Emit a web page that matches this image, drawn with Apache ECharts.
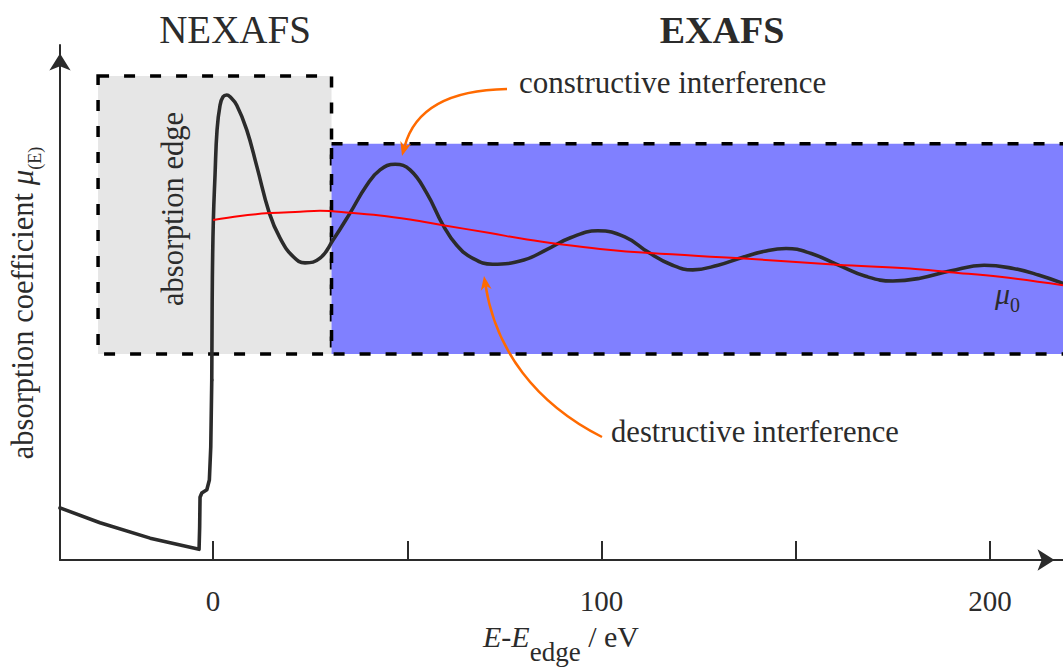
<!DOCTYPE html>
<html><head><meta charset="utf-8">
<script src="https://cdn.jsdelivr.net/npm/echarts@6/dist/echarts.min.js"></script>
<style>html,body{margin:0;padding:0;background:#fff}#c{width:1063px;height:671px}</style>
</head><body><div id="c"></div>
<script>
// ---------------- data (E - E_edge in eV, absorption in arbitrary units) ----------------
const edgeE  = [-39.4, -29.1, -16.2, -3.6, -3.45, -3.35, -2.9, -1.6, -0.95, -0.59, -0.33];
const edgeMu = [0.112, 0.080, 0.047, 0.023, 0.070, 0.135, 0.144, 0.151, 0.172, 0.243, 0.387];

const exafsE  = [-0.33, -0.18, 0.08, 0.51, 1.03, 1.80, 2.57, 3.53, 4.38, 6.10, 8.67, 11.25, 14.49, 17.25, 20.67, 23.68, 27.54, 30.89, 35.26, 39.56, 42.99, 46.85, 50.71, 55.01, 59.20, 62.73, 67.00, 72.00, 80.00, 86.00, 92.00, 99.00, 106.00, 112.00, 118.00, 123.50, 130.00, 136.00, 142.00, 147.50, 154.00, 161.00, 168.00, 175.00, 182.00, 190.00, 198.50, 206.00, 212.50, 218.79];
const exafsMu = [0.387, 0.602, 0.731, 0.828, 0.925, 0.978, 0.996, 1.000, 0.996, 0.978, 0.925, 0.847, 0.746, 0.692, 0.652, 0.639, 0.649, 0.688, 0.746, 0.806, 0.839, 0.851, 0.839, 0.789, 0.720, 0.677, 0.648, 0.636, 0.645, 0.668, 0.693, 0.708, 0.695, 0.662, 0.635, 0.624, 0.634, 0.650, 0.664, 0.670, 0.659, 0.634, 0.610, 0.600, 0.606, 0.622, 0.634, 0.627, 0.613, 0.595];

const mu0E   = [0, 6.95, 14.67, 22.39, 27.54, 35.26, 42.99, 50.71, 59.20, 71.30, 80.82, 89.32, 99.61, 112.48, 135.65, 160.62, 179.41, 189.70, 202.57, 218.79];
const mu0Val = [0.731, 0.740, 0.746, 0.749, 0.751, 0.747, 0.741, 0.732, 0.720, 0.703, 0.689, 0.679, 0.669, 0.660, 0.649, 0.635, 0.627, 0.619, 0.609, 0.591];

const regionNames = ['NEXAFS', 'EXAFS'];
const regionX0 = [-29.6, 30.5];
const regionX1 = [30.5, 226];
const regionY0 = [0.443, 0.443];
const regionY1 = [1.041, 0.895];

const tickValues  = [0, 50, 100, 150, 200];
const labelValues = [0, 100, 200];

// ---------------- styling helpers ----------------
const INK = '#2b2b2b';
const ORANGE = '#ff6a00';
const FONT = 'Liberation Serif, serif';
const regionFill = ['#e6e6e6', '#8080ff'];
const mctx = document.createElement('canvas').getContext('2d');
function tw(t, size, style, weight) {
  mctx.font = (style || 'normal') + ' ' + (weight || 'normal') + ' ' + size + 'px ' + FONT;
  return mctx.measureText(t).width;
}
// parts: [text, size, style, weight, baselineShift]; (x,y) = baseline anchor
function textRun(parts, x, y, rotation, align) {
  const widths = parts.map(p => tw(p[0], p[1], p[2], p[3]));
  const total = widths.reduce((a, b) => a + b, 0);
  let cx = align === 'left' ? 0 : -total / 2;
  const children = parts.map((p, i) => {
    const el = {
      type: 'text', x: cx, y: (p[4] || 0) - 0.34 * p[1], z: 100,
      style: { text: p[0], fontSize: p[1], fontStyle: p[2] || 'normal', fontWeight: p[3] || 'normal',
               fontFamily: FONT, fill: INK, align: 'left', verticalAlign: 'middle' }
    };
    cx += widths[i];
    return el;
  });
  return { type: 'group', x: x, y: y, rotation: rotation || 0, z: 100, children: children };
}
function arrowEls(p0, c1, c2, tip) {
  const dx = tip[0] - c2[0], dy = tip[1] - c2[1];
  const L = Math.hypot(dx, dy), ux = dx / L, uy = dy / L;
  const hl = 14, hw = 5.5;
  const base = [tip[0] - ux * hl, tip[1] - uy * hl];
  const notch = [tip[0] - ux * (hl - 4), tip[1] - uy * (hl - 4)];
  const left = [base[0] - uy * hw, base[1] + ux * hw];
  const right = [base[0] + uy * hw, base[1] - ux * hw];
  return [
    { type: 'bezierCurve', z: 100, silent: true,
      shape: { x1: p0[0], y1: p0[1], cpx1: c1[0], cpy1: c1[1], cpx2: c2[0], cpy2: c2[1], x2: notch[0], y2: notch[1] },
      style: { stroke: ORANGE, lineWidth: 2.5, fill: null } },
    { type: 'polygon', z: 100, silent: true, shape: { points: [tip, left, notch, right] }, style: { fill: ORANGE } }
  ];
}

const chart = echarts.init(document.getElementById('c'), null, { renderer: 'svg' });
const lineBase = { type: 'line', symbol: 'none', showSymbol: false, silent: true, emphasis: { disabled: true } };

chart.setOption({
  animation: false,
  backgroundColor: '#fff',
  grid: { left: 60, right: 0, top: 45, bottom: 111, containLabel: false, outerBoundsMode: 'none' },
  xAxis: {
    type: 'value', min: -39.4, max: 218.8,
    axisLine: { show: true, onZero: false, lineStyle: { color: INK, width: 2 },
                symbol: ['none', 'arrow'], symbolSize: [16, 17], symbolOffset: [0, -8.5] },
    axisTick: { show: true, inside: true, length: 19, lineStyle: { color: INK, width: 2 }, customValues: tickValues },
    axisLabel: { show: true, customValues: labelValues, margin: 26, fontFamily: FONT, fontSize: 29, color: INK },
    splitLine: { show: false }
  },
  yAxis: {
    type: 'value', min: 0, max: 1.1075,
    axisLine: { show: true, onZero: false, lineStyle: { color: INK, width: 2 },
                symbol: ['none', 'arrow'], symbolSize: [16, 17], symbolOffset: [0, -8.5] },
    axisTick: { show: false }, axisLabel: { show: false }, splitLine: { show: false }
  },
  series: [
    {
      type: 'custom', name: 'regions', z: 1, silent: true, clip: false,
      encode: { x: [0, 1], y: [2, 3] },
      data: regionNames.map((n, i) => [regionX0[i], regionX1[i], regionY0[i], regionY1[i]]),
      renderItem: function (params, api) {
        const tl = api.coord([api.value(0), api.value(3)]);
        const br = api.coord([api.value(1), api.value(2)]);
        return {
          type: 'rect',
          shape: { x: tl[0], y: tl[1], width: br[0] - tl[0], height: br[1] - tl[1] },
          style: { fill: regionFill[params.dataIndex], stroke: '#000', lineWidth: 3.5, lineDash: [11, 15] }
        };
      }
    },
    Object.assign({}, lineBase, {
      name: 'edge', z: 3, smooth: false,
      data: edgeE.map((e, i) => [e, edgeMu[i]]),
      lineStyle: { color: INK, width: 3.6, cap: 'round', join: 'round' }
    }),
    Object.assign({}, lineBase, {
      name: 'exafs', z: 3, smooth: 0.45,
      data: exafsE.map((e, i) => [e, exafsMu[i]]),
      lineStyle: { color: INK, width: 3.6, cap: 'round', join: 'round' }
    }),
    Object.assign({}, lineBase, {
      name: 'mu0', z: 4, smooth: 0.4,
      data: mu0E.map((e, i) => [e, mu0Val[i]]),
      lineStyle: { color: '#ff0000', width: 2 }
    })
  ],
  graphic: [].concat(
    [textRun([['NEXAFS', 39]], 235, 43)],
    [textRun([['EXAFS', 38, 'normal', 'bold']], 722, 43)],
    [textRun([['constructive interference', 31]], 519, 93, 0, 'left')],
    [textRun([['destructive interference', 30.6]], 611, 442, 0, 'left')],
    [textRun([['absorption edge', 30.5]], 183, 209, Math.PI / 2)],
    [textRun([['absorption coefficient ', 30.5], ['\u03bc', 31, 'italic'], ['(E)', 18, 'normal', 'normal', 8]], 33, 303, Math.PI / 2)],
    [textRun([['E', 30, 'italic'], ['-', 30], ['E', 30, 'italic'], ['edge', 27, 'normal', 'normal', 14], [' / eV', 30]], 561, 647)],
    [textRun([['\u03bc', 30, 'italic'], ['0', 20, 'normal', 'normal', 8]], 995, 304, 0, 'left')],
    arrowEls([507, 89], [445, 90], [414, 112], [402, 156]),
    arrowEls([602, 437], [535, 403], [496, 350], [484, 276])
  )
});
</script>
</body></html>
